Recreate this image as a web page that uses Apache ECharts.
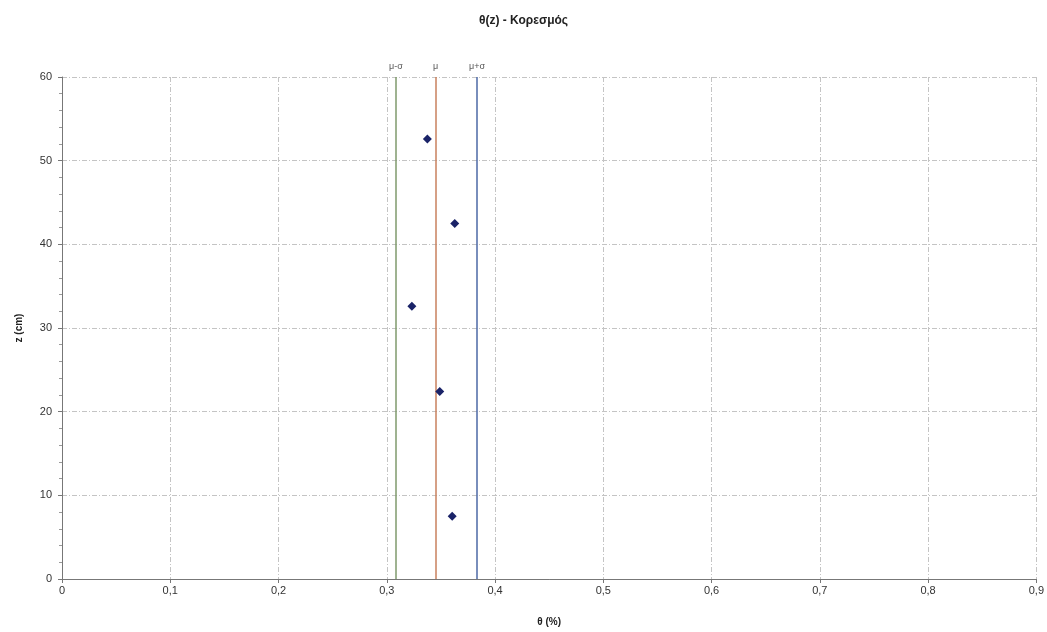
<!DOCTYPE html>
<html>
<head>
<meta charset="utf-8">
<script src="https://cdn.jsdelivr.net/npm/echarts@6/dist/echarts.min.js"></script>
<style>
  html, body { margin: 0; padding: 0; background: #fff; }
  #chart { width: 1047px; height: 632px; }
</style>
</head>
<body>
<div id="chart"></div>
<script>
// Measured water content θ (%) at each depth z (cm)
const theta = [0.3375, 0.3628, 0.3232, 0.3489, 0.3604];
const depth = [52.6, 42.5, 32.6, 22.4, 7.5];

// Reference lines: mean and mean ± one standard deviation
const refNames = ['μ-σ', 'μ', 'μ+σ'];
const refValues = [0.3085, 0.3451, 0.3833];
const refColors = ['#7f9a6c', '#c8805e', '#4c69a6'];

const xTicks = { min: 0, max: 0.9, interval: 0.1 };
const yTicks = { min: 0, max: 60, interval: 10 };

const fmtComma = v => String(Math.round(v * 10) / 10).replace('.', ',');

const chart = echarts.init(document.getElementById('chart'));

const gridLine = { show: true, lineStyle: { color: '#c4c4c4', width: 1, type: [5, 2, 1, 2] } };

chart.setOption({
  animation: false,
  backgroundColor: '#ffffff',
  title: {
    text: 'θ(z) - Κορεσμός',
    left: 'center', top: 10,
    textStyle: { fontFamily: 'Liberation Sans, Arial', fontSize: 12, fontWeight: 'bold', color: '#222' }
  },
  grid: { left: 62, right: 10, top: 77, bottom: 52 },
  xAxis: {
    type: 'value',
    min: xTicks.min, max: xTicks.max, interval: xTicks.interval,
    name: 'θ (%)', nameLocation: 'middle', nameGap: 38,
    nameTextStyle: { fontFamily: 'Liberation Sans, Arial', fontSize: 10, fontWeight: 'bold', color: '#222' },
    axisLine: { show: true, onZero: false, lineStyle: { color: '#777' } },
    axisTick: { show: true, length: 4, lineStyle: { color: '#777' } },
    axisLabel: { formatter: fmtComma, fontFamily: 'Liberation Sans, Arial', fontSize: 11, color: '#333', margin: 6 },
    splitLine: gridLine
  },
  yAxis: {
    type: 'value',
    min: yTicks.min, max: yTicks.max, interval: yTicks.interval,
    name: 'z (cm)', nameLocation: 'middle', nameGap: 38, nameRotate: 90,
    nameTextStyle: { fontFamily: 'Liberation Sans, Arial', fontSize: 10, fontWeight: 'bold', color: '#222' },
    axisLine: { show: true, onZero: false, lineStyle: { color: '#777' } },
    axisTick: { show: true, length: 4, lineStyle: { color: '#777' } },
    minorTick: { show: true, splitNumber: 5, length: 3, lineStyle: { color: '#999' } },
    axisLabel: { fontFamily: 'Liberation Sans, Arial', fontSize: 11, color: '#333', margin: 10 },
    splitLine: gridLine
  },
  series: [
    {
      type: 'scatter',
      symbol: 'diamond',
      symbolSize: 9,
      itemStyle: { color: '#1a2368', opacity: 1 },
      data: theta.map((t, i) => [t, depth[i]]),
      z: 5,
      markLine: {
        silent: true,
        precision: 4,
        symbol: ['none', 'none'],
        label: {
          show: true, position: 'end', distance: 6,
          formatter: p => p.name,
          fontFamily: 'Liberation Sans, Arial', fontSize: 9, color: '#555'
        },
        data: refNames.map((n, i) => ({
          name: n,
          xAxis: refValues[i],
          lineStyle: { color: refColors[i], width: 1.5, type: 'solid' }
        }))
      }
    }
  ]
});
</script>
</body>
</html>
